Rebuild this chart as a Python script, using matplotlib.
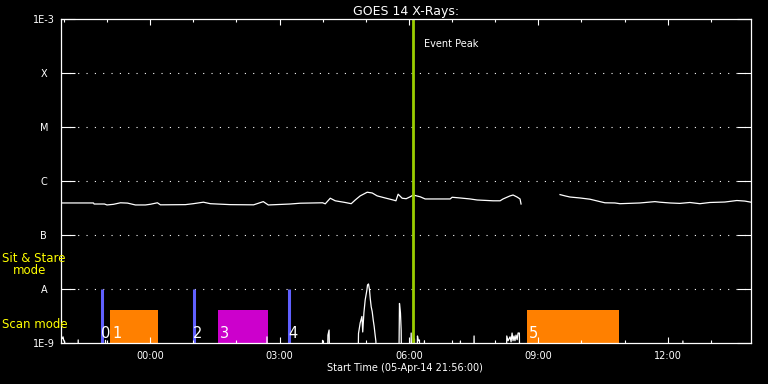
import numpy as np
import matplotlib
matplotlib.use('Agg')
import matplotlib.pyplot as plt
from matplotlib.ticker import NullLocator, FixedLocator

nan = np.nan

# time axis: hours relative to 06-Apr-14 00:00
x_start = -(2 + 4 / 60)      # 05-Apr-14 21:56
x_end = x_start + 16.0

# GOES 14 long channel (1-8 A), W/m^2
hi_time = [-2.067, -1.313, -1.30, -1.06, -1.0, -0.85, -0.688, -0.526, -0.341, -0.109,
           0.0, 0.169, 0.239, 0.818, 1.0, 1.235, 1.397, 1.860, 2.4, 2.624, 2.740,
           3.250, 3.482, 4.0, 4.061, 4.177, 4.292, 4.524, 4.663, 4.756, 4.871, 5.034,
           5.150, 5.265, 5.450, 5.636, 5.70, 5.751, 5.844, 5.937, 6.030, 6.100, 6.262,
           6.378, 6.656, 6.957, 7.003, 7.188, 7.420, 7.582, 7.953, 8.115, 8.184, 8.346,
           8.416, 8.509, 8.578, 8.601, 9.0, 9.505, 9.621, 9.736, 9.968, 10.200, 10.431,
           10.547, 10.779, 10.894, 11.358, 11.705, 11.821, 12.053, 12.284, 12.516,
           12.748, 12.979, 13.327, 13.605, 13.790, 13.933]
hi_flux = [3.92e-7, 3.92e-7, 3.75e-7, 3.75e-7, 3.6e-7, 3.7e-7, 3.95e-7, 3.9e-7, 3.6e-7, 3.6e-7,
           3.7e-7, 3.95e-7, 3.62e-7, 3.65e-7, 3.8e-7, 4.05e-7, 3.8e-7, 3.65e-7, 3.62e-7, 4.15e-7, 3.6e-7,
           3.75e-7, 3.88e-7, 3.95e-7, 3.78e-7, 4.8e-7, 4.3e-7, 4.0e-7, 3.8e-7, 4.45e-7, 5.3e-7, 6.2e-7,
           6.0e-7, 5.3e-7, 4.85e-7, 4.45e-7, 4.3e-7, 5.7e-7, 4.8e-7, 4.7e-7, 5.1e-7, 5.5e-7, 5.1e-7,
           4.65e-7, 4.65e-7, 4.65e-7, 5.0e-7, 4.85e-7, 4.65e-7, 4.45e-7, 4.3e-7, 4.3e-7, 4.65e-7, 5.3e-7,
           5.5e-7, 5.05e-7, 4.65e-7, 3.75e-7, nan, 5.6e-7, 5.3e-7, 5.05e-7, 4.85e-7, 4.6e-7, 4.15e-7,
           3.95e-7, 3.92e-7, 3.8e-7, 3.92e-7, 4.15e-7, 4.05e-7, 3.92e-7, 3.85e-7, 4.0e-7,
           3.8e-7, 4.0e-7, 4.08e-7, 4.35e-7, 4.25e-7, 4.05e-7]

# GOES 14 short channel (0.5-4 A), W/m^2 (1e-10 = below plot floor)
lo_time = [-2.067, -2.04, -2.02, -2.0, -1.98, -1.95, -1.69, -1.668, -1.645, -1.06, -1.035, -1.01,
           2.69, 2.710, 2.73, 3.98, 3.998, 4.02, 4.10, 4.123, 4.15, 4.177,
           4.81, 4.832, 4.871, 4.911, 4.93, 4.957, 4.987, 5.027, 5.041, 5.064, 5.087, 5.103,
           5.126, 5.150, 5.173, 5.196, 5.212, 5.235, 5.258,
           5.76, 5.782, 5.805, 5.821, 5.84, 6.03, 6.053, 6.08, 6.11, 6.129, 6.15, 6.18, 6.199,
           6.22, 6.245, 6.26, 6.34, 6.361, 6.38, 7.17, 7.195, 7.22, 7.49, 7.512, 7.535,
           8.25, 8.270, 8.30, 8.346, 8.37, 8.393, 8.415, 8.439, 8.46, 8.485, 8.51, 8.532,
           8.562, 8.58, 9.0, 9.5, 12.33, 12.354, 12.38, 13.933]
lo_flux = [1.3e-9, 1.2e-9, 1.3e-9, 1.1e-9, 1.05e-9, 1e-10, 1e-10, 1.14e-9, 1e-10, 1e-10, 1.12e-9, 1e-10,
           1e-10, 1.3e-9, 1e-10, 1e-10, 1.12e-9, 1e-10, 1e-10, 1.4e-9, 1.74e-9, 1e-10,
           1e-10, 1.5e-9, 2.35e-9, 3.1e-9, 1.6e-9, 3.6e-9, 6.3e-9, 9.6e-9, 1.19e-8, 1.24e-8, 9.6e-9, 6.8e-9,
           4.7e-9, 3.8e-9, 2.67e-9, 2.0e-9, 1.53e-9, 1.08e-9, 1e-10,
           1e-10, 5.4e-9, 3.6e-9, 1.74e-9, 1e-10, 1e-10, 1.53e-9, 1e-10, 1e-10, 1.19e-9, 1e-10, 1e-10, 1.35e-9,
           1.1e-9, 1.14e-9, 1e-10, 1e-10, 1.1e-9, 1e-10, 1e-10, 1.09e-9, 1e-10, 1e-10, 1.35e-9, 1e-10,
           1e-10, 1.35e-9, 1.1e-9, 1.3e-9, 1.05e-9, 1.53e-9, 1.1e-9, 1.35e-9, 1.1e-9, 1.4e-9, 1.15e-9, 1.53e-9,
           1.53e-9, 1e-10, nan, 1e-10, 1e-10, 1.09e-9, 1e-10, 1e-10]

# y axis levels
level_values = [1e-3, 1e-4, 1e-5, 1e-6, 1e-7, 1e-8, 1e-9]
level_labels = ['1E-3', 'X', 'M', 'C', 'B', 'A', '1E-9']
grid_levels = [1e-4, 1e-5, 1e-6, 1e-7, 1e-8]

# x axis ticks
xtick_hours = [0, 3, 6, 9, 12]
xtick_labels = ['00:00', '03:00', '06:00', '09:00', '12:00']
minor_hours = list(range(-2, 14))

# observations: sit & stare (rasters as lines) and scans (boxes)
stare_times = [-1.121, 1.010, 3.211]
stare_labels = ['0', '2', '4']
scan_starts = [-0.920, 1.582, 8.740]
scan_ends = [0.185, 2.733, 10.864]
scan_labels = ['1', '3', '5']
scan_colors = ['#ff8000', '#cc00cc', '#ff8000']
stare_top = 1e-8
scan_top = 4.08e-9
event_peak = 6.099

W, H = 768, 384
fig = plt.figure(figsize=(W / 100, H / 100), dpi=100, facecolor='black')
ax = fig.add_axes([61 / W, 1 - 343 / H, 690 / W, 324 / H], facecolor='black')
ax.set_yscale('log')
ax.set_xlim(x_start, x_end)
ax.set_ylim(1e-9, 1e-3)

for lev in grid_levels:
    ax.axhline(lev, color='white', lw=0.8, linestyle=(0, (1, 6.5)), zorder=0.5)

ax.bar(scan_starts, [scan_top - 1e-9] * len(scan_starts), bottom=1e-9,
       width=np.array(scan_ends) - np.array(scan_starts), align='edge',
       color=scan_colors, zorder=1, linewidth=0)
ax.vlines(stare_times, 1e-9, stare_top, color='#6060ff', lw=2.2, zorder=1)

ax.plot(hi_time, hi_flux, color='white', lw=0.9, zorder=2)
ax.plot(lo_time, lo_flux, color='white', lw=0.9, zorder=2)

ax.axvline(event_peak, color='#9acd00', lw=2.0, zorder=3)
ax.text(event_peak + 0.255, 3.07e-4, 'Event Peak', color='white', fontsize=7, va='baseline')

for t, lab in zip(stare_times, stare_labels):
    ax.text(t - 0.01, 1.24e-9, lab, color='white', fontsize=10.5, va='baseline', ha='left', zorder=4)
for t, lab in zip(scan_starts, scan_labels):
    ax.text(t + 0.04, 1.24e-9, lab, color='white', fontsize=10.5, va='baseline', ha='left', zorder=4)

for s in ax.spines.values():
    s.set_color('white')
    s.set_linewidth(0.9)
    s.set_zorder(5)

ax.yaxis.set_major_locator(FixedLocator(level_values))
ax.yaxis.set_minor_locator(NullLocator())
ax.set_yticklabels(level_labels)
ax.xaxis.set_major_locator(FixedLocator(xtick_hours))
ax.xaxis.set_minor_locator(FixedLocator(minor_hours))
ax.set_xticklabels(xtick_labels)
ax.tick_params(axis='both', which='both', direction='in', top=True, right=True,
               colors='white', width=0.8, labelsize=7)
ax.tick_params(axis='y', which='major', length=10.1, pad=12.4)
for lbl in ax.get_yticklabels():
    lbl.set_ha('center')
ax.tick_params(axis='x', which='major', length=4.5, pad=5.5)
ax.tick_params(axis='x', which='minor', length=2.2)

ax.set_title('GOES 14 X-Rays:', color='white', fontsize=9, pad=3)
fig.text(405 / W, 1 - 371 / H, 'Start Time (05-Apr-14 21:56:00)', color='white',
         fontsize=7, ha='center', va='baseline')

fig.text(2 / W, 1 - 262 / H, 'Sit & Stare', color='#ffff00', fontsize=8.5, va='baseline')
fig.text(13 / W, 1 - 274.5 / H, 'mode', color='#ffff00', fontsize=8.5, va='baseline')
fig.text(2 / W, 1 - 327.5 / H, 'Scan mode', color='#ffff00', fontsize=8.5, va='baseline')

fig.savefig('out.png', dpi=100, facecolor='black')
